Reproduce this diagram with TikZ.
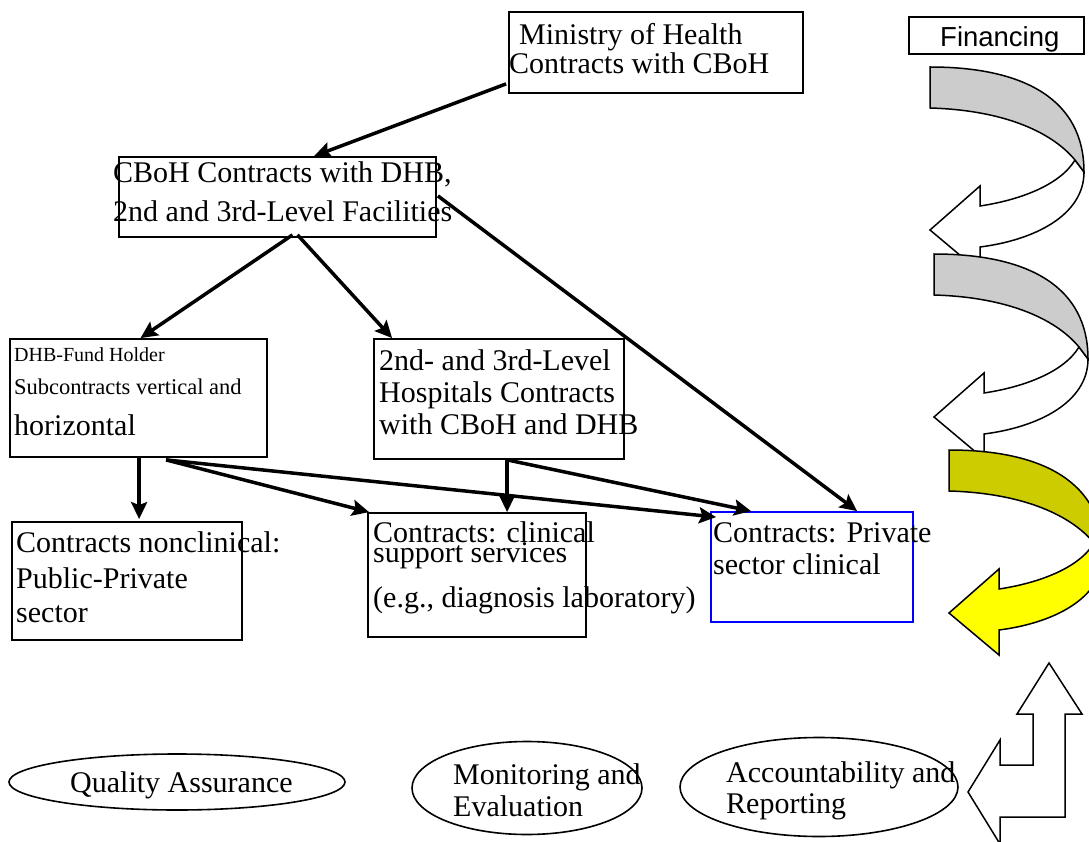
\documentclass[tikz,border=0pt]{standalone}
\usepackage{fontspec}
\setmainfont{Liberation Serif}
\newfontfamily\arialf{Liberation Sans}
\usetikzlibrary{arrows.meta,calc,shapes.geometric}
\definecolor{bandgray}{HTML}{CCCCCC}
\definecolor{olive}{HTML}{CCCC00}
\definecolor{yel}{HTML}{FFFF00}
\definecolor{boxblue}{HTML}{0000FF}
\newcommand{\curvedarrow}[4]{%
  \begin{scope}[shift={(#1,#2)}]
    \filldraw[fill=#4, draw=black, line width=1.5pt, line join=miter]
      (1075,160) .. controls (1060,185) and (1020,200) .. (980,206)
      -- (980,186) -- (930,230) -- (980,272) -- (980,247)
      .. controls (1035,240) and (1084,215) .. (1084,172) -- cycle;
    \filldraw[fill=#3, draw=black, line width=1.5pt, line join=miter]
      (930,67) .. controls (1025,67) and (1084,100) .. (1084,172)
      -- (1075,160) .. controls (1050,130) and (1000,110) .. (930,108) -- cycle;
  \end{scope}}
\tikzset{
  box/.style={draw=black, line width=1.8pt, inner sep=0pt},
  conn/.style={line width=3.5pt, -{Stealth[length=17pt,width=16pt,inset=3pt]}},
  ell/.style={ellipse, draw=black, line width=1.6pt, inner sep=0pt},
  txt/.style={anchor=base west, inner sep=0pt, font=\fontsize{30}{30}\selectfont},
}
\begin{document}
\begin{tikzpicture}[x=1pt,y=-1pt]
\useasboundingbox (0,0) rectangle (1089,842);
\fill[white] (0,0) rectangle (1089,842);
\clip (0,0) rectangle (1089,842);

% boxes
\node[box, minimum width=294, minimum height=81] (min) at (656,52.5) {};
\node[box, minimum width=317, minimum height=80] (cboh) at (277.5,197) {};
\node[box, minimum width=257, minimum height=118] (dhb) at (138.5,398) {};
\node[box, minimum width=250, minimum height=120] (hosp) at (499,399) {};
\node[box, minimum width=230, minimum height=118] (nonc) at (127,581) {};
\node[box, minimum width=218, minimum height=124] (supp) at (477,575) {};
\node[box, draw=boxblue, minimum width=202, minimum height=110] (priv) at (812,567) {};
\node[box, minimum width=175, minimum height=37] (fin) at (996.5,35.5) {};

% texts
\node[txt] (min1) at (519,45) {Ministry of Health};
\node[txt] (min2) at (509,74) {Contracts with CBoH};
\node[txt] (cb1) at (113,183) {CBoH Contracts with DHB,};
\node[txt] (cb2) at (113,222) {2nd and 3rd-Level Facilities};
\node[txt, font=\fontsize{20}{20}\selectfont] (dh1) at (14,361) {DHB-Fund Holder};
\node[txt, font=\fontsize{22.5}{22}\selectfont] (dh2) at (14,394) {Subcontracts vertical and};
\node[txt] (dh3) at (14,435) {horizontal};
\node[txt] (ho1) at (379,370) {2nd- and 3rd-Level};
\node[txt] (ho2) at (379,402) {Hospitals Contracts};
\node[txt] (ho3) at (379,434) {with CBoH and DHB};
\node[txt] (nc1) at (16,552) {Contracts nonclinical:};
\node[txt] (nc2) at (16,588) {Public-Private};
\node[txt] (nc3) at (16,622) {sector};
\node[txt] (su1) at (373,542) {Contracts: clinical};
\node[txt] (su2) at (373,562) {support services};
\node[txt] (su3) at (373,607) {(e.g., diagnosis laboratory)};
\node[txt] (pr1) at (713,542) {Contracts: Private};
\node[txt] (pr2) at (713,574) {sector clinical};
\node[txt, font=\arialf\fontsize{27.5}{28}\selectfont] (fint) at (940,47) {Financing};

% connectors
\draw[conn] ($(min.south west)+(-2,-10)$) -- ($(cboh.north west)+(196,0)$);
\draw[conn] ($(cboh.south)+(15,-3)$) -- ($(dhb.north)+(2,0)$);
\draw[conn] ($(cboh.south)+(20,-3)$) -- ($(hosp.north west)+(19,0)$);
\draw[conn] ($(cboh.south east)+(1,-42)$) -- ($(priv.north west)+(147,0)$);
\draw[conn] ($(dhb.south west)+(130,0)$) -- ($(nonc.north west)+(128,-2)$);
\draw[conn] ($(dhb.south west)+(157,2)$) -- ($(supp.north west)+(2,0)$);
\draw[conn] ($(dhb.south west)+(157,2)$) -- ($(priv.north west)+(6,6)$);
\draw[conn] ($(hosp.south west)+(134,0)$) -- ($(supp.north west)+(140,0)$);
\draw[conn] ($(hosp.south west)+(134,0)$) -- ($(priv.north west)+(41,0)$);

% ellipses
\node[ell, minimum width=336, minimum height=56] (qa) at (177,782) {};
\node[txt] (qat) at (70,792) {Quality Assurance};
\node[ell, minimum width=230, minimum height=93] (mon) at (527,788) {};
\node[txt] (mo1) at (453,784) {Monitoring and};
\node[txt] (mo2) at (453,816) {Evaluation};
\node[ell, minimum width=278, minimum height=99] (acc) at (819,787) {};
\node[txt] (ac1) at (726,782) {Accountability and};
\node[txt] (ac2) at (726,813) {Reporting};

% curved arrows
\curvedarrow{0}{0}{bandgray}{white}
\curvedarrow{4}{187}{bandgray}{white}
\curvedarrow{19}{383}{olive}{yel}

% bent arrow
\filldraw[fill=white, draw=black, line width=1.5pt, line join=miter]
  (1000,765) -- (1033,765) -- (1033,714) -- (1017,714) -- (1049,663)
  -- (1082,714) -- (1065,714) -- (1065,817) -- (1000,817) -- (1000,844)
  -- (968,792) -- (1000,740) -- cycle;
\end{tikzpicture}
\end{document}
